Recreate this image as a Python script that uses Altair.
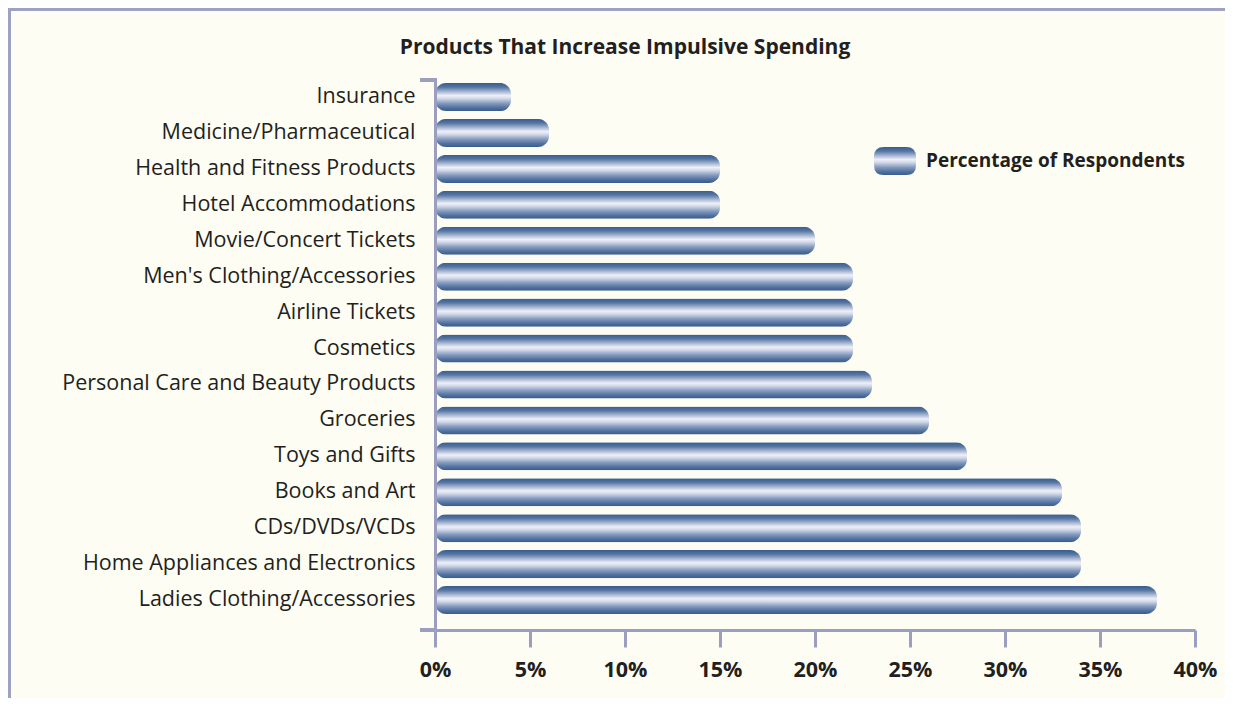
import altair as alt
import pandas as pd

categories = [
    "Insurance",
    "Medicine/Pharmaceutical",
    "Health and Fitness Products",
    "Hotel Accommodations",
    "Movie/Concert Tickets",
    "Men's Clothing/Accessories",
    "Airline Tickets",
    "Cosmetics",
    "Personal Care and Beauty Products",
    "Groceries",
    "Toys and Gifts",
    "Books and Art",
    "CDs/DVDs/VCDs",
    "Home Appliances and Electronics",
    "Ladies Clothing/Accessories",
]
values = [4, 6, 15, 15, 20, 22, 22, 22, 23, 26, 28, 33, 34, 34, 38]
series_name = "Percentage of Respondents"
tick_values = [0, 5, 10, 15, 20, 25, 30, 35, 40]

df = pd.DataFrame({"category": categories, "value": values, "series": series_name})

FONT = "Open Sans"
TEXT = "#231F20"
AXIS = "#9C9EC0"
FRAME = "#9FA1C2"
BG = "#FDFDF4"

stops = [
    ("#385C8D", 0.0),
    ("#5676A3", 0.15),
    ("#A3B3D0", 0.3),
    ("#EEF0F8", 0.45),
    ("#D3D9E9", 0.55),
    ("#869CBF", 0.72),
    ("#52719F", 0.88),
    ("#385C8D", 1.0),
]
grad = alt.Gradient(
    gradient="linear", x1=0, y1=0, x2=0, y2=1,
    stops=[alt.GradientStop(color=c, offset=o) for c, o in stops],
)

W, H = 760, 550
PL, PT = 427, 72
PR = 1217 - PL - W
PB = 690 - PT - H

rounded = "M-0.8,-1 H0.8 Q1.5,-1 1.5,-0.3 V0.3 Q1.5,1 0.8,1 H-0.8 Q-1.5,1 -1.5,0.3 V-0.3 Q-1.5,-1 -0.8,-1 Z"

bars = alt.Chart(df).mark_bar(color=grad, cornerRadius=11, xOffset=2).encode(
    y=alt.Y(
        "category:N",
        sort=categories,
        title=None,
        scale=alt.Scale(paddingInner=0.22, paddingOuter=0.264, align=0.16),
        axis=alt.Axis(
            ticks=False, domainColor=AXIS, domainWidth=3,
            labelFont=FONT, labelFontSize=21.5, labelColor=TEXT,
            labelPadding=20, labelLimit=420,
        ),
    ),
    x=alt.X(
        "value:Q",
        title=None,
        scale=alt.Scale(domain=[0, 40], nice=False),
        axis=alt.Axis(
            values=tick_values, labelExpr="datum.value + '%'",
            grid=False, domainColor=AXIS, domainWidth=3,
            tickColor=AXIS, tickWidth=3, tickSize=17,
            labelFont=FONT, labelFontSize=21.5, labelFontWeight="bold",
            labelColor=TEXT, labelPadding=12, labelFlush=False,
        ),
    ),
    opacity=alt.Opacity(
        "series:N",
        scale=alt.Scale(range=[1]),
        legend=alt.Legend(
            title=None, orient="none", legendX=446, legendY=67,
            padding=0, symbolType=rounded, symbolSize=784,
            symbolStrokeWidth=0, labelOffset=17,
            labelFont=FONT, labelFontSize=19, labelFontWeight="bold",
            labelColor=TEXT, labelLimit=400,
        ),
    ),
)

frame_top = alt.Chart(df).mark_rule(color=FRAME, strokeWidth=3).encode(
    x=alt.value(-PL), x2=alt.value(W + PR), y=alt.value(-PT + 1)
)
frame_left = alt.Chart(df).mark_rule(color=FRAME, strokeWidth=3).encode(
    x=alt.value(-PL + 1), y=alt.value(-PT), y2=alt.value(H + PB)
)
stub_top = alt.Chart(df).mark_rule(color=AXIS, strokeWidth=3).encode(
    x=alt.value(-15), x2=alt.value(1.5), y=alt.value(0)
)
stub_bottom = alt.Chart(df).mark_rule(color=AXIS, strokeWidth=3).encode(
    x=alt.value(-15), x2=alt.value(0), y=alt.value(H)
)

chart = alt.layer(frame_top, frame_left, stub_top, stub_bottom, bars).properties(
    width=W, height=H,
    padding={"left": PL, "top": PT, "right": PR, "bottom": PB},
    autosize="none",
    background=BG,
    title=alt.Title(
        "Products That Increase Impulsive Spending",
        font=FONT, fontSize=21, fontWeight="bold", color=TEXT,
        anchor="middle", frame="group", dx=-190, offset=-68, baseline="alphabetic",
    ),
).configure_view(stroke=None)

chart.save("out.html", embed_options={"renderer": "svg", "actions": False})
